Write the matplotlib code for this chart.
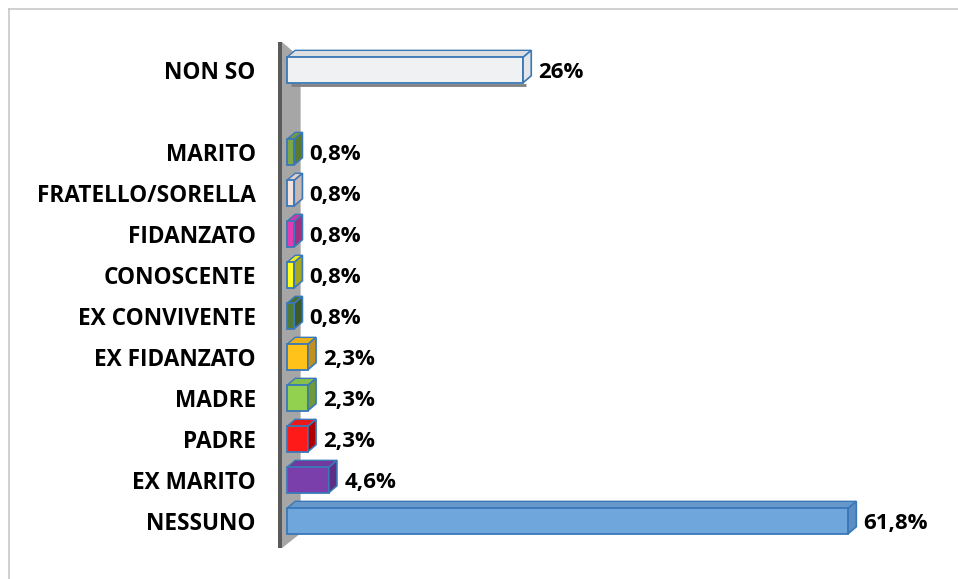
import matplotlib
matplotlib.use("Agg")
import matplotlib.pyplot as plt
from matplotlib.patches import Polygon
from matplotlib.lines import Line2D
import matplotlib.colors as mcolors
import numpy as np

categories = ["NESSUNO", "EX MARITO", "PADRE", "MADRE", "EX FIDANZATO",
              "EX CONVIVENTE", "CONOSCENTE", "FIDANZATO", "FRATELLO/SORELLA",
              "MARITO", "", "NON SO"]
values = [61.8, 4.6, 2.3, 2.3, 2.3, 0.8, 0.8, 0.8, 0.8, 0.8, np.nan, 26.0]
value_labels = ["61,8%", "4,6%", "2,3%", "2,3%", "2,3%", "0,8%", "0,8%",
                "0,8%", "0,8%", "0,8%", "", "26%"]
colors = ["#6FA6DC", "#7A3FAA", "#FF1A1A", "#92D050", "#FFC21A",
          "#4F7A38", "#FFFF1A", "#E23CB4", "#F5E2DD", "#7DA646", "#FFFFFF",
          "#F0F1F3"]
side_colors = ["#5B8FC4", "#5E2F85", "#B00000", "#6F9A3A", "#C09020",
               "#3C5A2A", "#A8A820", "#A03080", "#C8B8B4", "#5A7A30", "#FFFFFF",
               "#E4E6EA"]
edge = "#3A78B8"

plt.rcParams['font.family'] = ['Open Sans', 'Noto Sans', 'DejaVu Sans']

W, H = 958, 579
fig = plt.figure(figsize=(W / 100, H / 100), dpi=100)
x0_px, scale = 287, 9.08
xmax = 70
ymin, ymax = -0.7, 11.7
y_top_px = 521 - ymax * 41
y_bot_px = 521 - ymin * 41
ax = fig.add_axes([x0_px / W, (H - y_bot_px) / H, xmax * scale / W,
                   (y_bot_px - y_top_px) / H])
ax.set_xlim(0, xmax)
ax.set_ylim(ymin, ymax)
for s in ax.spines.values():
    s.set_visible(False)
ax.xaxis.set_visible(False)

y = np.arange(len(categories))
h = 0.62
dx, dy = 0.9, 0.17

# back wall
dark = Polygon([(-1.0, 11.68), (-0.55, 11.68), (-0.55, -0.66), (-1.0, -0.66)],
               closed=True, facecolor="#5A5A5A", edgecolor="none",
               clip_on=False, zorder=1)
light = Polygon([(-0.55, 11.68), (1.5, 11.3), (1.5, -0.3), (-0.55, -0.66)],
                closed=True, facecolor="#A6A6A6", edgecolor="none",
                clip_on=False, zorder=1)
ax.add_patch(dark)
ax.add_patch(light)

vals = np.array(values, dtype=float)
ok = ~np.isnan(vals)
ax.barh(y[ok], vals[ok], height=h, color=np.array(colors)[ok], edgecolor=edge,
        linewidth=1.3, zorder=3, clip_on=False)

for i, (v, c, sc) in enumerate(zip(values, colors, side_colors)):
    if np.isnan(v):
        continue
    yt = y[i] + h / 2
    yb = y[i] - h / 2
    top = Polygon([(0, yt), (v, yt), (v + dx, yt + dy), (dx, yt + dy)],
                  closed=True, facecolor=mcolors.to_hex(
                      np.clip(np.array(mcolors.to_rgb(c)) * 0.92, 0, 1)),
                  edgecolor=edge, linewidth=1.0, zorder=2, clip_on=False)
    side = Polygon([(v, yb), (v, yt), (v + dx, yt + dy), (v + dx, yb + dy)],
                   closed=True, facecolor=sc, edgecolor=edge, linewidth=1.2,
                   zorder=4, clip_on=False)
    ax.add_patch(top)
    ax.add_patch(side)
    ax.text(v + dx + 0.8, y[i] - 0.07, value_labels[i], ha="left",
            va="center", fontsize=16, fontweight="bold", color="black",
            zorder=5)

# shadow under NON SO bar
i_ns = len(categories) - 1
ax.plot([0.4, values[i_ns] + 0.3], [y[i_ns] - h / 2 - 0.06] * 2,
        color="#808080", lw=2.0, zorder=2.5, solid_capstyle="butt")

ax.set_yticks(y)
ax.set_yticklabels(categories, fontsize=16.3, fontweight="bold")
ax.tick_params(axis="y", length=0, pad=22.5)

# outer frame
fig.add_artist(Line2D([9 / W, 1], [1 - 9 / H, 1 - 9 / H], color="#C8C8C8",
                      lw=1.2, transform=fig.transFigure))
fig.add_artist(Line2D([9 / W, 9 / W], [0, 1 - 9 / H], color="#C8C8C8",
                      lw=1.2, transform=fig.transFigure))

fig.savefig("out.png", dpi=100, facecolor="white")
